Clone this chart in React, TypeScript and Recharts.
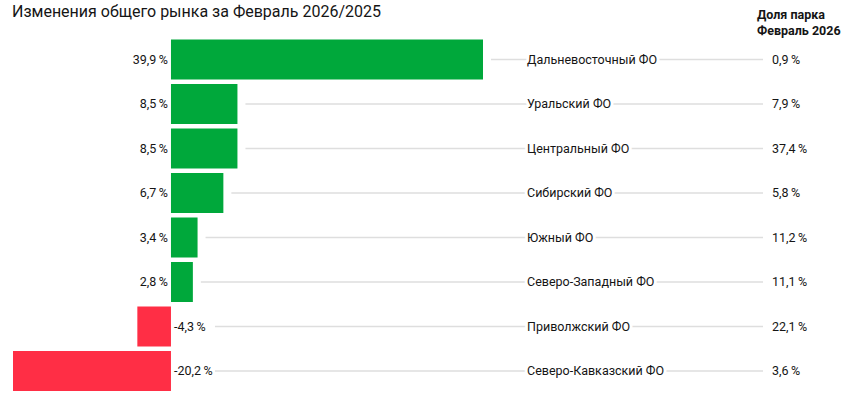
import React from "react";
import { BarChart, Bar, XAxis, YAxis, Cell, LabelList } from "recharts";

const categories = [
  "Дальневосточный ФО",
  "Уральский ФО",
  "Центральный ФО",
  "Сибирский ФО",
  "Южный ФО",
  "Северо-Западный ФО",
  "Приволжский ФО",
  "Северо-Кавказский ФО",
];
const changes = [39.9, 8.5, 8.5, 6.7, 3.4, 2.8, -4.3, -20.2];
const shares = [0.9, 7.9, 37.4, 5.8, 11.2, 11.1, 22.1, 3.6];

const title = "Изменения общего рынка за Февраль 2026/2025";
const headerLines = ["Доля парка", "Февраль 2026"];

const data = categories.map((name, i) => ({ name, change: changes[i], share: shares[i] }));

const FONT = "Roboto, 'Noto Sans', sans-serif";
const TEXT = "#151515";
const GREEN = "#00a83b";
const RED = "#ff2e45";
const LINE = "#dedede";

const fmt = (v: number) => v.toFixed(1).replace(".", ",") + "\u2009%";

const NAME_X = 527;
const SHARE_X = 772;
const LINE_END = 763;
const FS = 12.5;

const RowLabel = (props: any) => {
  const { x, y, width, height, index } = props;
  const v = changes[index];
  const left = Math.min(x, x + width);
  const right = Math.max(x, x + width);
  const cy = y + height / 2;
  const zero = v >= 0 ? left : right;
  const lineStart = v >= 0 ? right + 8 : zero + 44;
  return (
    <g>
      <line x1={lineStart} x2={LINE_END} y1={cy} y2={cy} stroke={LINE} strokeWidth={1.3} />
      {v >= 0 ? (
        <text x={zero - 3} y={cy} dy="0.35em" textAnchor="end" fontSize={FS} fill={TEXT} fontFamily={FONT}>
          {fmt(v)}
        </text>
      ) : (
        <text x={zero + 3} y={cy} dy="0.35em" textAnchor="start" fontSize={FS} fill={TEXT} fontFamily={FONT}>
          {fmt(v)}
        </text>
      )}
      <text
        x={NAME_X}
        y={cy}
        dy="0.35em"
        fontSize={FS}
        fill={TEXT}
        fontFamily={FONT}
        stroke="#fff"
        strokeWidth={6}
        paintOrder="stroke"
        strokeLinejoin="round"
      >
        {categories[index]}
      </text>
      <text x={SHARE_X} y={cy} dy="0.35em" fontSize={FS} fill={TEXT} fontFamily={FONT}>
        {fmt(shares[index])}
      </text>
    </g>
  );
};

export default function App() {
  return (
    <div style={{ position: "absolute", left: 0, top: 0, width: 850, height: 399, background: "#fff" }}>
      <BarChart
        width={850}
        height={399}
        data={data}
        layout="vertical"
        margin={{ top: 37, right: 367, bottom: 6, left: 13 }}
        barCategoryGap={2.5}
      >
        <XAxis type="number" domain={[-20.2, 39.9]} hide />
        <YAxis type="category" dataKey="name" hide />
        <Bar dataKey="change" isAnimationActive={false}>
          {data.map((d, i) => (
            <Cell key={i} fill={d.change >= 0 ? GREEN : RED} />
          ))}
          <LabelList dataKey="change" content={RowLabel} />
        </Bar>
      </BarChart>
      <svg width={850} height={399} style={{ position: "absolute", left: 0, top: 0, pointerEvents: "none" }}>
        <text x={12} y={17} fontSize={16} fill={TEXT} fontFamily={FONT}>
          {title}
        </text>
        <text x={757} y={19} fontSize={12.5} fontWeight="bold" fill={TEXT} fontFamily={FONT}>
          {headerLines[0]}
        </text>
        <text x={757} y={35} fontSize={12.5} fontWeight="bold" fill={TEXT} fontFamily={FONT}>
          {headerLines[1]}
        </text>
      </svg>
    </div>
  );
}
